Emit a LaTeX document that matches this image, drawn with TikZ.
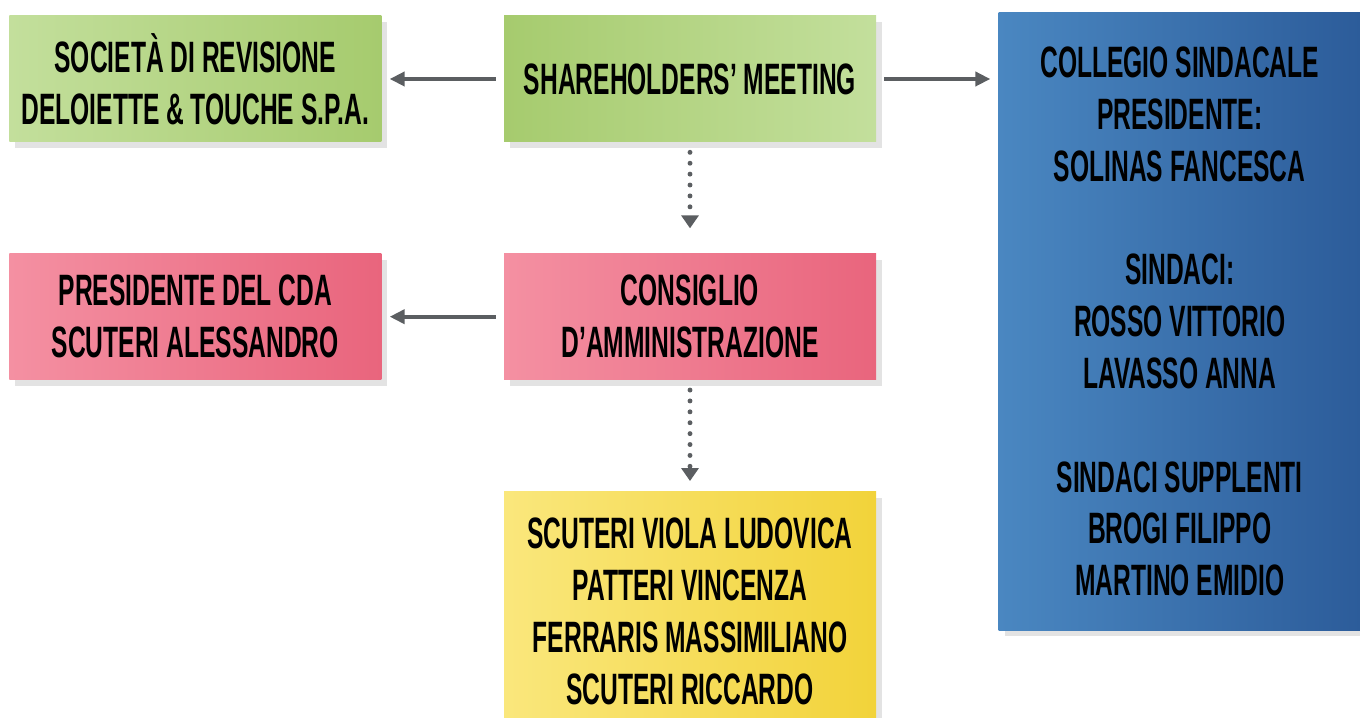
\documentclass[tikz,border=0pt]{standalone}
\usepackage{fontspec}
\setmainfont{Liberation Sans}[FakeStretch=0.56]
\usetikzlibrary{positioning, shadows, arrows.meta}
\definecolor{mgreenl}{HTML}{C3DF9C}
\definecolor{mgreend}{HTML}{A6CB6E}
\definecolor{mpinkl}{HTML}{F490A2}
\definecolor{mpinkd}{HTML}{E9657D}
\definecolor{mbluel}{HTML}{4A87C1}
\definecolor{mblued}{HTML}{2C5C9A}
\definecolor{myellowl}{HTML}{FAE77C}
\definecolor{myellowd}{HTML}{F2D33A}
\definecolor{mgray}{HTML}{5B5E61}
\tikzstyle{orgbox} = [rectangle, minimum width=7.44cm, minimum height=2.52cm, inner sep=0pt, align=center, font=\bfseries\fontsize{25}{29.5}\selectfont, drop shadow={shadow xshift=3.5pt, shadow yshift=-3.5pt, opacity=0.22}]
\tikzstyle{audit} = [orgbox, left color=mgreenl, right color=mgreend]
\tikzstyle{assembly} = [orgbox, left color=mgreend, right color=mgreenl]
\tikzstyle{board} = [orgbox, left color=mpinkl, right color=mpinkd]
\tikzstyle{members} = [orgbox, left color=myellowl, right color=myellowd]
\tikzstyle{auditors} = [orgbox, left color=mbluel, right color=mblued]
\tikzstyle{link} = [mgray, line width=2.3pt, -{Triangle[length=0.3cm, width=0.28cm]}, shorten <=0.16cm, shorten >=0.16cm]
\tikzstyle{flow} = [mgray, line width=2.8pt, line cap=round, dash pattern=on 0pt off 6.2pt, -{Triangle[length=0.26cm, width=0.34cm]}, shorten <=0.2cm]

\begin{document}
\begin{tikzpicture}[node distance=2.22cm and 2.44cm]
  \useasboundingbox (0,0) rectangle (27.2,-14.36);
  \node (shm) [assembly] at (13.8,-1.58) {SHAREHOLDERS’ MEETING};
  \node (soc) [audit, left=of shm] {SOCIETÀ DI REVISIONE\\DELOIETTE \& TOUCHE S.P.A.};
  \node (cda) [board, below=of shm] {CONSIGLIO\\D’AMMINISTRAZIONE};
  \node (pres) [board, left=of cda] {PRESIDENTE DEL CDA\\SCUTERI ALESSANDRO};
  \node (dir) [members, below=of cda, minimum height=4.8cm] {SCUTERI VIOLA LUDOVICA\\PATTERI VINCENZA\\FERRARIS MASSIMILIANO\\SCUTERI RICCARDO};
  \node (coll) [auditors, right=of shm.north east, anchor=north west, yshift=0.06cm, minimum width=7.24cm, minimum height=12.34cm] {COLLEGIO SINDACALE\\PRESIDENTE:\\SOLINAS FANCESCA\\[29.5pt]SINDACI:\\ROSSO VITTORIO\\LAVASSO ANNA\\[29.5pt]SINDACI SUPPLENTI\\BROGI FILIPPO\\MARTINO EMIDIO};
  \draw [link] (shm) -- (soc);
  \draw [link] (shm.east) -- (shm.east -| coll.west);
  \draw [link] (cda) -- (pres);
  \draw [flow, shorten >=0.5cm] (shm) -- (cda);
  \draw [flow, shorten >=0.2cm] (cda) -- (dir);
\end{tikzpicture}
\end{document}
